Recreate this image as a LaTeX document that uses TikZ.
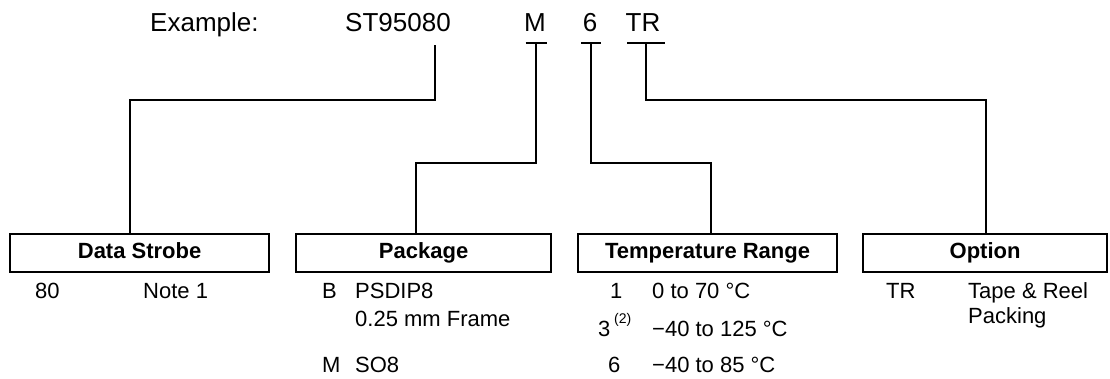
\documentclass[tikz,border=0pt]{standalone}
\usepackage{fontspec}
\setmainfont{Liberation Sans}
\begin{document}
\begin{tikzpicture}[x=1pt,y=-1pt,
  conn/.style={line width=2.2pt},
  tbar/.style={line width=2.8pt},
  catbox/.style={draw,line width=2.2pt,anchor=north west,inner sep=0pt,text height=15.5pt,text depth=4.5pt,font=\fontsize{22}{26}\selectfont\bfseries},
  top/.style={anchor=base west,inner sep=0pt,font=\fontsize{26}{30}\selectfont},
  item/.style={anchor=base west,inner sep=0pt,font=\fontsize{22}{26}\selectfont}]
\useasboundingbox (0,0) rectangle (1110,378);
% top line
\node[top] (ex) at (150,31) {Example:};
\node[top] (st) at (345,31) {ST95080};
\node[top,anchor=base] (m) at (535,31) {M};
\node[top,anchor=base] (six) at (590,31) {6};
\node[top,anchor=base] (tr) at (643,31) {TR};
\coordinate (tST) at (435,45);
\coordinate (tM) at (536,43);
\coordinate (tSix) at (591,43);
\coordinate (tTR) at (646,43);
\draw[tbar] ([xshift=-10.5]tM) -- ([xshift=10.5]tM);
\draw[tbar] ([xshift=-10]tSix) -- ([xshift=10]tSix);
\draw[tbar] ([xshift=-19]tTR) -- ([xshift=19]tTR);
% boxes
\node[catbox,minimum width=259pt,minimum height=38pt] (bDS) at (9,233) {Data Strobe};
\node[catbox,minimum width=255pt,minimum height=38pt] (bPk) at (295,233) {Package};
\node[catbox,minimum width=259pt,minimum height=38pt] (bTR) at (577,233) {Temperature Range};
\node[catbox,minimum width=244pt,minimum height=38pt] (bOp) at (862,233) {Option};
% connectors
\coordinate (kST) at (130,100);
\coordinate (kM) at (416,163);
\coordinate (kSix) at (711,163);
\coordinate (kTR) at (986,100);
\draw[conn] (tST) |- (kST) -- (kST |- bDS.north);
\draw[conn] (tM) |- (kM) -- (kM |- bPk.north);
\draw[conn] (tSix) |- (kSix) -- (kSix |- bTR.north);
\draw[conn] (tTR) |- (kTR) -- (kTR |- bOp.north);
% Data Strobe list
\node[item] (ds1) at (35,298) {80};
\node[item] (ds1t) at (143,298) {Note 1};
% Package list
\node[item] (pk1) at (322,298) {B};
\node[item] (pk1t) at (355,298) {PSDIP8};
\node[item] (pk1u) at (355,326) {0.25 mm Frame};
\node[item] (pk2) at (322,372) {M};
\node[item] (pk2t) at (355,372) {SO8};
% Temperature list
\node[item] (tp1) at (610,298) {1};
\node[item] (tp1t) at (652,298) {0 to 70 °C};
\node[item] (tp2) at (598,336) {3\,\raisebox{0.55em}{\fontsize{14}{16}\selectfont(2)}};
\node[item] (tp2t) at (652,336) {−40 to 125 °C};
\node[item] (tp3) at (608,372) {6};
\node[item] (tp3t) at (652,372) {−40 to 85 °C};
% Option list
\node[item] (op1) at (886,298) {TR};
\node[item] (op1t) at (968,298) {Tape \& Reel};
\node[item] (op1u) at (968,323) {Packing};
\end{tikzpicture}
\end{document}
